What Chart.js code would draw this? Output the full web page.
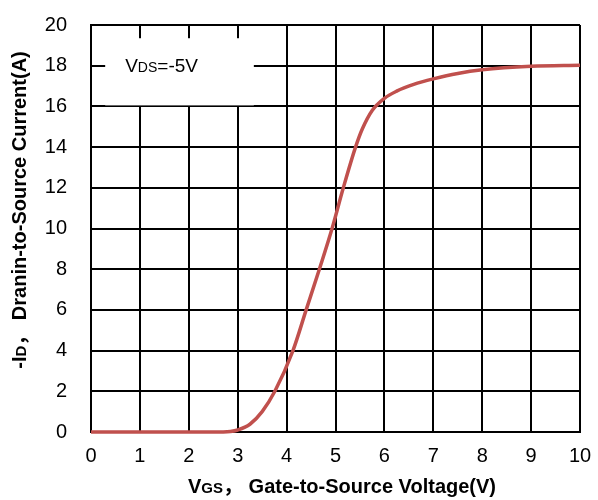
<!DOCTYPE html>
<html lang="en">
<head>
<meta charset="UTF-8">
<title>Transfer characteristics</title>
<script src="https://cdn.jsdelivr.net/npm/chart.js"></script>
<style>
  html, body { margin: 0; padding: 0; background: #fff; }
  #wrap { width: 598px; height: 500px; }
</style>
</head>
<body>
<div id="wrap"><canvas id="myChart" width="598" height="500"></canvas></div>
<script>
  // values
  const vgs = [0, 1, 2, 2.5, 2.85, 3.0, 3.25, 3.5, 3.76, 4.13, 4.4, 4.67, 4.93, 5.16, 5.41, 5.55, 5.75, 6.0, 6.25, 6.6, 7.0, 7.5, 8.0, 9.0, 10];
  const idCurrent = [0, 0, 0, 0, 0.03, 0.1, 0.38, 1.0, 2.0, 4.0, 6.0, 8.0, 10.0, 12.0, 14.0, 14.9, 15.8, 16.4, 16.75, 17.08, 17.35, 17.62, 17.8, 17.97, 18.02];
  const xTicks = [0, 1, 2, 3, 4, 5, 6, 7, 8, 9, 10];
  const yTicks = [0, 2, 4, 6, 8, 10, 12, 14, 16, 18, 20];
  const legendLabel = ['V', 'DS', '=-5V'];
  const xTitle = ['V', 'GS', '， ', 'Gate-to-Source Voltage(V)'];
  const yTitle = ['-I', 'D', '， ', 'Dranin-to-Source Current(A)'];

  const FONT = '"Liberation Sans", Arial, "Noto Sans CJK SC", sans-serif';

  // draw text pieces, the second piece is the small subscript-like one
  function drawPieces(ctx, pieces, cx, cy, bold, size, small) {
    const w = bold ? 'bold ' : '';
    let parts = pieces.map((t, i) => ({ t: t, font: w + (i === 1 ? small : size) + 'px ' + FONT }));
    let total = 0;
    parts.forEach(p => { ctx.font = p.font; p.w = ctx.measureText(p.t).width; total += p.w; });
    let x = cx - total / 2;
    ctx.textBaseline = 'alphabetic';
    ctx.textAlign = 'left';
    parts.forEach(p => {
      ctx.font = p.font;
      ctx.fillText(p.t, x, cy);
      x += p.w;
    });
  }

  const extras = {
    id: 'extras',
    beforeDatasetsDraw(chart) {
      // white box behind the VDS label
      const ctx = chart.ctx;
      const xs = chart.scales.x, ys = chart.scales.y;
      ctx.save();
      ctx.fillStyle = '#fff';
      let left = xs.getPixelForValue(0.29), right = xs.getPixelForValue(3.33);
      let top = ys.getPixelForValue(19.35), bottom = ys.getPixelForValue(16) - 1;
      ctx.fillRect(left, top, right - left, bottom - top);
      ctx.fillStyle = '#000';
      ctx.textBaseline = 'alphabetic';
      let x = left + 20;
      legendLabel.forEach((t, i) => {
        ctx.font = (i === 1 ? 14 : 19) + 'px ' + FONT;
        ctx.fillText(t, x, ys.getPixelForValue(18) + 6);
        x += ctx.measureText(t).width;
      });
      ctx.restore();
    },
    afterDraw(chart) {
      const ctx = chart.ctx;
      ctx.save();
      ctx.fillStyle = '#000';
      drawPieces(ctx, xTitle, 342, 493, true, 20, 15);
      ctx.translate(26, 210);
      ctx.rotate(-Math.PI / 2);
      drawPieces(ctx, yTitle, 0, 0, true, 20, 15);
      ctx.restore();
    }
  };

  new Chart(document.getElementById('myChart').getContext('2d'), {
    type: 'scatter',
    data: {
      datasets: [{
        data: vgs.map((v, i) => ({ x: v, y: idCurrent[i] })),
        showLine: true,
        borderColor: 'rgb(192, 80, 77)',
        borderWidth: 3.5,
        pointRadius: 0,
        cubicInterpolationMode: 'monotone',
        clip: false
      }]
    },
    options: {
      responsive: false,
      animation: false,
      layout: { padding: { left: 0, right: 18, top: 25, bottom: 0 } },
      plugins: { legend: { display: false }, tooltip: { enabled: false } },
      scales: {
        x: {
          type: 'linear',
          min: 0, max: 10,
          afterBuildTicks: s => { s.ticks = xTicks.map(v => ({ value: v })); },
          afterFit: s => { s.height = 68; s.paddingLeft = 0; s.paddingRight = 0; },
          grid: { color: '#000', lineWidth: 2, drawTicks: false },
          border: { color: '#000', width: 2 },
          ticks: { color: '#000', padding: 12, font: { family: FONT, size: 20 }, maxRotation: 0 }
        },
        y: {
          type: 'linear',
          min: 0, max: 20,
          afterBuildTicks: s => { s.ticks = yTicks.map(v => ({ value: v })); },
          afterFit: s => { s.width = 91; s.paddingTop = 0; s.paddingBottom = 0; },
          grid: { color: '#000', lineWidth: 2, drawTicks: false },
          border: { color: '#000', width: 2 },
          ticks: { color: '#000', padding: 24, font: { family: FONT, size: 20 } }
        }
      }
    },
    plugins: [extras]
  });
</script>
</body>
</html>
